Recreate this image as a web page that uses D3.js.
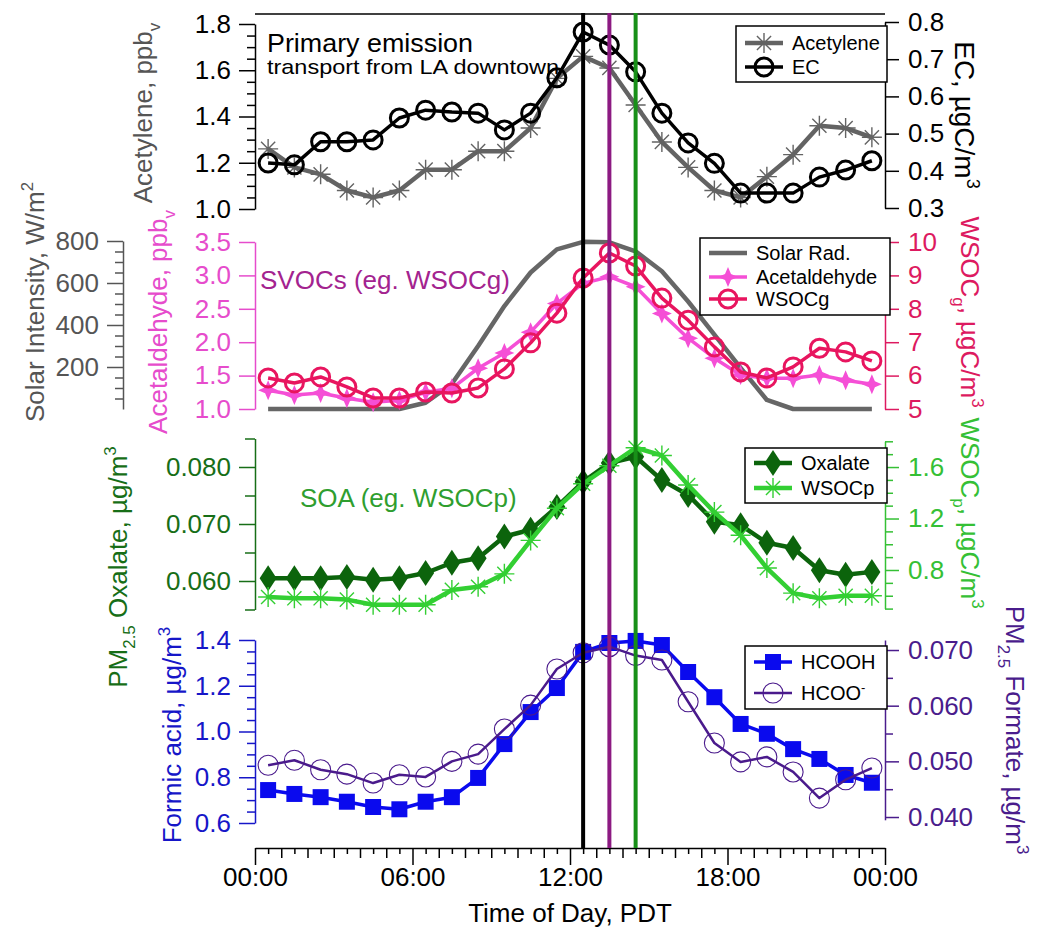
<!DOCTYPE html>
<html lang="en">
<head>
<meta charset="UTF-8" />
<title>Diurnal profiles, stacked panels</title>
<style>
  body { margin: 0; background: #fff; }
  svg { display: block; font-family: "Liberation Sans", Arial, sans-serif; }
</style>
</head>
<body>
<div id="chart"></div>
<script src="https://d3js.org/d3.v7.min.js"></script>
<script>
// ---- data (hourly means, hour-of-day midpoints) ----
const hours = [0.5, 1.5, 2.5, 3.5, 4.5, 5.5, 6.5, 7.5, 8.5, 9.5, 10.5, 11.5,
               12.5, 13.5, 14.5, 15.5, 16.5, 17.5, 18.5, 19.5, 20.5, 21.5, 22.5, 23.5];
const acetylene = [1.26, 1.18, 1.15, 1.08, 1.05, 1.08, 1.17, 1.17, 1.25, 1.25, 1.35, 1.565,
                   1.66, 1.61, 1.45, 1.29, 1.18, 1.08, 1.05, 1.14, 1.235, 1.36, 1.35, 1.31];
const ec = [0.421, 0.416, 0.478, 0.478, 0.483, 0.542, 0.563, 0.558, 0.555, 0.51, 0.555, 0.65,
            0.773, 0.738, 0.666, 0.555, 0.475, 0.42, 0.34, 0.34, 0.34, 0.383, 0.402, 0.427];
const solar = [0, 0, 0, 0, 0, 0, 30, 120, 300, 490, 650, 760,
               796, 794, 751, 656, 512, 354, 196, 43, 0, 0, 0, 0];
const acetaldehyde = [1.28, 1.21, 1.24, 1.16, 1.10, 1.13, 1.25, 1.31, 1.61, 1.84, 2.15, 2.58,
                      2.88, 2.98, 2.83, 2.43, 2.06, 1.76, 1.51, 1.46, 1.46, 1.51, 1.43, 1.37];
const wsocg = [5.93, 5.78, 5.96, 5.66, 5.33, 5.33, 5.51, 5.48, 5.63, 6.2, 6.98, 7.87,
               8.92, 9.67, 9.28, 8.32, 7.66, 6.86, 6.11, 5.93, 6.26, 6.82, 6.71, 6.44];
const oxalate = [0.0605, 0.0605, 0.0605, 0.0607, 0.0602, 0.0605, 0.0614, 0.0632, 0.064, 0.0678, 0.069, 0.073,
                 0.0774, 0.0807, 0.0818, 0.0777, 0.0751, 0.0704, 0.0698, 0.0667, 0.0658, 0.0619, 0.0611, 0.0616];
const wsocp = [0.59, 0.58, 0.58, 0.57, 0.53, 0.53, 0.53, 0.645, 0.67, 0.77, 1.03, 1.28,
               1.47, 1.61, 1.75, 1.69, 1.46, 1.25, 1.07, 0.815, 0.62, 0.58, 0.60, 0.60];
const formic = [0.744, 0.727, 0.713, 0.693, 0.67, 0.66, 0.693, 0.713, 0.797, 0.945, 1.085, 1.19,
                1.348, 1.387, 1.396, 1.378, 1.26, 1.15, 1.033, 0.99, 0.923, 0.88, 0.81, 0.776];
const formate = [0.0493, 0.0502, 0.0485, 0.0477, 0.0461, 0.0476, 0.0472, 0.050, 0.0513, 0.0558, 0.0601, 0.0666,
                 0.0695, 0.0706, 0.069, 0.0682, 0.0607, 0.0533, 0.0499, 0.0508, 0.0481, 0.0434, 0.0467, 0.0488];
const peakHours = [12.5, 13.5, 14.5];
const xTickHours = [0, 6, 12, 18, 24];
const xTickLabels = ["00:00", "06:00", "12:00", "18:00", "00:00"];

// ---- layout ----
const width = 1040, height = 928;
const tickFont = 26;
const titleFont = 26;

const svg = d3.select("#chart").append("svg")
  .attr("width", width).attr("height", height);
svg.append("rect").attr("width", width).attr("height", height).attr("fill", "#fff");

const x = d3.scaleLinear().domain([0, 24]).range([255, 885]);

const yAcet = d3.scaleLinear().domain([1.0, 1.8]).range([209, 24]);
const yEC = d3.scaleLinear().domain([0.3, 0.8]).range([208, 22]);
const ySolar = d3.scaleLinear().domain([0, 800]).range([409, 241]);
const yAld = d3.scaleLinear().domain([1.0, 3.5]).range([409, 242]);
const yWg = d3.scaleLinear().domain([5, 10]).range([409, 242]);
const yOx = d3.scaleLinear().domain([0.055, 0.085]).range([609.5, 438.5]);
const yWp = d3.scaleLinear().domain([0.5, 1.8]).range([608.6, 441.3]);
const yFa = d3.scaleLinear().domain([0.6, 1.4]).range([823, 640]);
const yFo = d3.scaleLinear().domain([0.0395, 0.0718]).range([819.8, 640]);

// ---- axes ----
function yAxis(scale, side, xPos, color, major, fmt, minor, minorLen) {
  const g = svg.append("g").attr("transform", `translate(${xPos},0)`);
  const mk = side === "left" ? d3.axisLeft : d3.axisRight;
  if (minor) {
    g.append("g").call(mk(scale).tickValues(minor).tickSize(minorLen || 8).tickSizeOuter(0).tickFormat(""))
      .call(a => a.select(".domain").remove());
  }
  const ax = g.append("g").call(mk(scale).tickValues(major).tickSize(side === "left" ? 16 : 14)
      .tickSizeOuter(0).tickPadding(side === "left" ? 8 : 9).tickFormat(d3.format(fmt)));
  g.selectAll("line, path").attr("stroke", color).attr("stroke-width", 1.5);
  ax.selectAll("text").attr("fill", color).style("font-size", tickFont + "px")
    .style("font-family", '"Liberation Sans", Arial, sans-serif');
  return g;
}

yAxis(yAcet, "left", 255, "#000", [1.0, 1.2, 1.4, 1.6, 1.8], ".1f",
  [1.05, 1.1, 1.15, 1.25, 1.3, 1.35, 1.45, 1.5, 1.55, 1.65, 1.7, 1.75]);
yAxis(yEC, "right", 885, "#000", [0.3, 0.4, 0.5, 0.6, 0.7, 0.8], ".1f");
yAxis(ySolar, "left", 123, "#555", [200, 400, 600, 800], "d",
  [50, 100, 150, 250, 300, 350, 450, 500, 550, 650, 700, 750]);
yAxis(yAld, "left", 255, "#e64ccc", [1.0, 1.5, 2.0, 2.5, 3.0, 3.5], ".1f");
yAxis(yWg, "right", 885, "#dd1a60", [5, 6, 7, 8, 9, 10], "d");
yAxis(yOx, "left", 255, "#176e17", [0.060, 0.070, 0.080], ".3f",
  [0.055, 0.065, 0.075, 0.085], 10);
yAxis(yWp, "right", 885, "#35c035", [0.8, 1.2, 1.6], ".1f",
  [0.5, 0.6, 0.7, 0.9, 1.0, 1.1, 1.3, 1.4, 1.5, 1.7, 1.8]);
yAxis(yFa, "left", 255, "#1616c8", [0.6, 0.8, 1.0, 1.2, 1.4], ".1f",
  [0.65, 0.7, 0.75, 0.85, 0.9, 0.95, 1.05, 1.1, 1.15, 1.25, 1.3, 1.35]);
yAxis(yFo, "right", 885, "#4a1c8c", [0.040, 0.050, 0.060, 0.070], ".3f",
  [0.045, 0.055, 0.065]);

// x axis
const xg = svg.append("g").attr("transform", "translate(0,848)");
xg.append("g").call(d3.axisBottom(x).tickValues(d3.range(0.5, 24, 1)).tickSize(6).tickSizeOuter(0).tickFormat(""))
  .call(a => a.select(".domain").remove());
xg.append("g").call(d3.axisBottom(x).tickValues(d3.range(1, 24, 1).filter(h => h % 6 !== 0)).tickSize(10).tickSizeOuter(0).tickFormat(""))
  .call(a => a.select(".domain").remove());
xg.append("g").call(d3.axisBottom(x).tickValues(xTickHours).tickSize(17).tickSizeOuter(0).tickPadding(3)
    .tickFormat((d, i) => xTickLabels[i]));
xg.selectAll("line, path").attr("stroke", "#000").attr("stroke-width", 1.5);
xg.selectAll("text").attr("fill", "#000").style("font-size", "26px")
  .style("font-family", '"Liberation Sans", Arial, sans-serif');

// top frame line
svg.append("line").attr("x1", x(0)).attr("x2", x(24)).attr("y1", 14).attr("y2", 14)
  .attr("stroke", "#000").attr("stroke-width", 1.5);

// ---- markers ----
function asteriskPath(r) {
  const d = r * 0.7071;
  return `M${-r},0L${r},0M0,${-r}L0,${r}M${-d},${-d}L${d},${d}M${-d},${d}L${d},${-d}`;
}
function star4Path(r, ri) {
  return `M0,${-r}L${ri},${-ri}L${r},0L${ri},${ri}L0,${r}L${-ri},${ri}L${-r},0L${-ri},${-ri}Z`;
}
function diamondPath(w, h) {
  return `M0,${-h}L${w},0L0,${h}L${-w},0Z`;
}

function drawMarker(sel, m, color) {
  if (m === "asterisk") {
    sel.append("path").attr("d", asteriskPath(10)).attr("fill", "none").attr("stroke", color).attr("stroke-width", 1.4);
  } else if (m === "circle") {
    sel.append("circle").attr("r", 9).attr("fill", "none").attr("stroke", color).attr("stroke-width", 3);
  } else if (m === "ocircle") {
    sel.append("circle").attr("r", 10).attr("fill", "none").attr("stroke", color).attr("stroke-width", 1.1);
  } else if (m === "star4") {
    sel.append("path").attr("d", star4Path(10, 3)).attr("fill", color);
  } else if (m === "diamond") {
    sel.append("path").attr("d", diamondPath(8.5, 13)).attr("fill", color);
  } else if (m === "square") {
    sel.append("path").attr("d", d3.symbol(d3.symbolSquare, 256)()).attr("fill", color);
  }
}

function series(values, yScale, color, lw, marker) {
  const g = svg.append("g");
  const line = d3.line().x((d, i) => x(hours[i])).y(d => yScale(d));
  g.append("path").datum(values).attr("d", line).attr("fill", "none")
    .attr("stroke", color).attr("stroke-width", lw).attr("stroke-linejoin", "round");
  if (marker) {
    g.selectAll("g.m").data(values).join("g").attr("class", "m")
      .attr("transform", (d, i) => `translate(${x(hours[i])},${yScale(d)})`)
      .each(function () { drawMarker(d3.select(this), marker, color); });
  }
}

const C = {
  acetylene: "#636363", ec: "#000000", solar: "#666666",
  ald: "#f54fd6", wsocg: "#e8155f", ox: "#0c640c", wsocp: "#33cf33",
  hcooh: "#0a0aee", hcoo: "#4a1a8c"
};

series(acetylene, yAcet, C.acetylene, 4.5, "asterisk");
series(ec, yEC, C.ec, 3.5, "circle");
series(solar, ySolar, C.solar, 4.5, null);
series(acetaldehyde, yAld, C.ald, 3.5, "star4");
series(wsocg, yWg, C.wsocg, 3.5, "circle");
series(oxalate, yOx, C.ox, 4.5, "diamond");
series(wsocp, yWp, C.wsocp, 4.5, "asterisk");
series(formic, yFa, C.hcooh, 3.5, "square");
series(formate, yFo, C.hcoo, 2.5, "ocircle");

// vertical markers of peak times
const vColors = ["#000000", "#8c1a82", "#189018"];
svg.append("g").selectAll("line").data(peakHours).join("line")
  .attr("x1", d => x(d)).attr("x2", d => x(d)).attr("y1", 13).attr("y2", 848)
  .attr("stroke", (d, i) => vColors[i]).attr("stroke-width", 4);

// ---- legends ----
function legend(bx, by, bw, bh, rows, rowYs) {
  const g = svg.append("g");
  g.append("rect").attr("x", bx).attr("y", by).attr("width", bw).attr("height", bh)
    .attr("fill", "#fff").attr("stroke", "#000").attr("stroke-width", 1.5);
  rows.forEach((r, i) => {
    const cy = rowYs[i];
    g.append("line").attr("x1", bx + 9).attr("x2", bx + 47).attr("y1", cy).attr("y2", cy)
      .attr("stroke", r.color).attr("stroke-width", r.lw);
    if (r.marker) drawMarker(g.append("g").attr("transform", `translate(${bx + 28},${cy})`), r.marker, r.color);
    const t = g.append("text").attr("x", bx + 56).attr("y", cy + 7).style("font-size", "20px").attr("fill", "#000");
    t.append("tspan").text(r.label);
    if (r.sup) t.append("tspan").text(r.sup).attr("dy", -8).style("font-size", "13px");
  });
}
legend(736, 26, 151, 56, [
  { label: "Acetylene", color: C.acetylene, lw: 4.5, marker: "asterisk" },
  { label: "EC", color: C.ec, lw: 3.5, marker: "circle" }
], [43, 67]);
legend(700, 238, 190, 77, [
  { label: "Solar Rad.", color: C.solar, lw: 4.5 },
  { label: "Acetaldehyde", color: C.ald, lw: 3.5, marker: "star4" },
  { label: "WSOCg", color: C.wsocg, lw: 3.5, marker: "circle" }
], [253, 277, 299]);
legend(745, 448, 142, 55, [
  { label: "Oxalate", color: C.ox, lw: 4.5, marker: "diamond" },
  { label: "WSOCp", color: C.wsocp, lw: 4.5, marker: "asterisk" }
], [463, 488]);
legend(745, 646, 142, 63, [
  { label: "HCOOH", color: C.hcooh, lw: 3.5, marker: "square" },
  { label: "HCOO", sup: "-", color: C.hcoo, lw: 2.5, marker: "ocircle" }
], [662, 693]);

// ---- annotations ----
svg.append("text").attr("x", 267).attr("y", 52).style("font-size", "25px")
  .attr("textLength", 206).attr("lengthAdjust", "spacingAndGlyphs").text("Primary emission");
svg.append("text").attr("x", 267).attr("y", 74).style("font-size", "21px")
  .attr("textLength", 292).attr("lengthAdjust", "spacingAndGlyphs").text("transport from LA downtown");
svg.append("text").attr("x", 260).attr("y", 289).style("font-size", "26px").attr("fill", "#a3238f").text("SVOCs (eg. WSOCg)");
svg.append("text").attr("x", 300).attr("y", 507).style("font-size", "26px").attr("fill", "#2f9e2f").text("SOA (eg. WSOCp)");

// ---- axis titles with sub/superscripts ----
function title(cx, cy, rot, color, parts, size) {
  const t = svg.append("text")
    .attr("transform", `translate(${cx},${cy}) rotate(${rot}) translate(0,${0.36 * size})`)
    .attr("text-anchor", "middle").attr("fill", color).style("font-size", size + "px");
  let shift = 0;
  parts.forEach(p => {
    const s = p.sub ? 0.28 * size : p.sup ? -0.42 * size : 0;
    const ts = t.append("tspan").text(p.t);
    if (s - shift !== 0) ts.attr("dy", s - shift);
    if (p.sub || p.sup) ts.style("font-size", (0.65 * size) + "px");
    shift = s;
  });
}
title(143, 113, -90, "#555", [{ t: "Acetylene, ppb" }, { t: "v", sub: true }], titleFont);
title(965, 115, 90, "#000", [{ t: "EC, µgC/m" }, { t: "3", sup: true }], 28);
title(35, 302, -90, "#555", [{ t: "Solar Intensity, W/m" }, { t: "2", sup: true }], titleFont);
title(158, 322, -90, "#e64ccc", [{ t: "Acetaldehyde, ppb" }, { t: "v", sub: true }], titleFont);
title(970, 312, 90, "#dd1a60", [{ t: "WSOC" }, { t: "g", sub: true }, { t: ", µgC/m" }, { t: "3", sup: true }], titleFont);
title(118, 567, -90, "#176e17", [{ t: "PM" }, { t: "2.5", sub: true }, { t: " Oxalate, µg/m" }, { t: "3", sup: true }], titleFont);
title(970, 513, 90, "#35c035", [{ t: "WSOC" }, { t: "p", sub: true }, { t: ", µgC/m" }, { t: "3", sup: true }], titleFont);
title(172, 735, -90, "#1616c8", [{ t: "Formic acid, µg/m" }, { t: "3", sup: true }], titleFont);
title(1015, 730, 90, "#4a1c8c", [{ t: "PM" }, { t: "2.5", sub: true }, { t: " Formate, µg/m" }, { t: "3", sup: true }], titleFont);
svg.append("text").attr("x", 570).attr("y", 922).attr("text-anchor", "middle")
  .style("font-size", "26px").text("Time of Day, PDT");
</script>
</body>
</html>
